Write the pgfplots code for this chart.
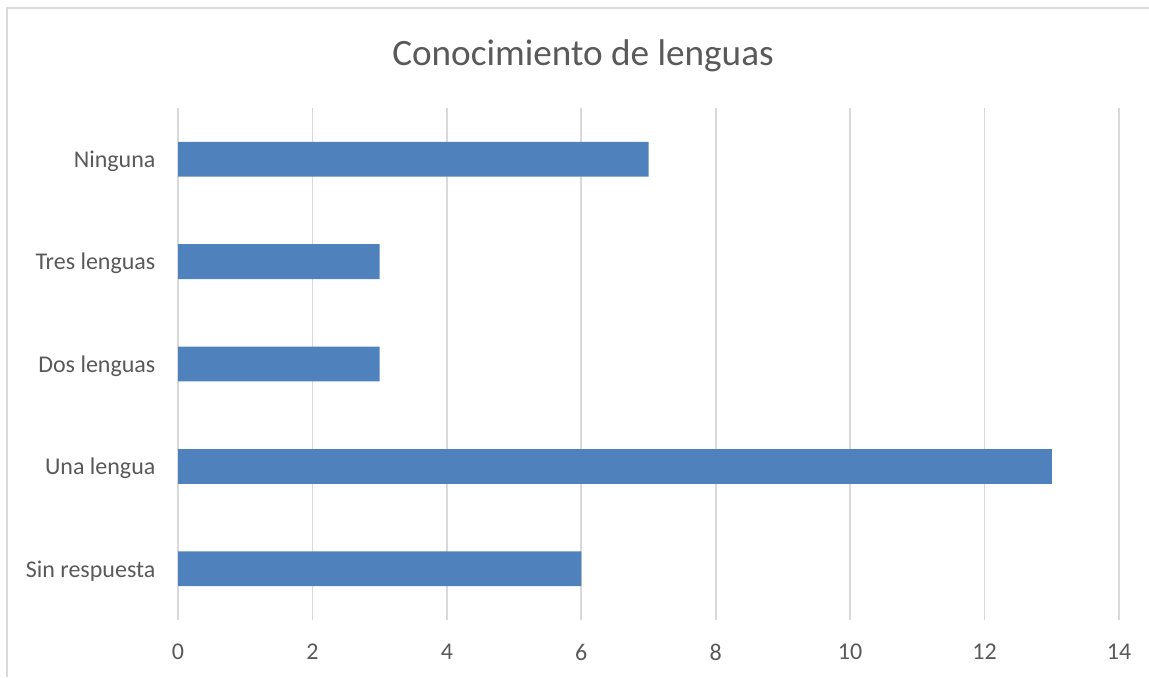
\documentclass[border=0pt]{standalone}
\usepackage{pgfplots}
\pgfplotsset{compat=1.18}
\usepackage{fontspec}
\setmainfont{Carlito}
\definecolor{barblue}{HTML}{4F81BD}
\definecolor{gridgray}{HTML}{D9D9D9}
\definecolor{textgray}{HTML}{595959}

\begin{document}
\begin{tikzpicture}[x=0.5pt,y=0.5pt]
% frame: 1149 x 677 px, 1px = 0.5pt
\useasboundingbox (0,0) rectangle (1149,677);
\draw[gridgray, line width=1.2pt] (7,0) -- (7,669) -- (1149,669);
\node[textgray, font=\fontsize{18.6}{20}\selectfont] at (583,621) {Conocimiento de lenguas};

\begin{axis}[
    at={(89pt,28.5pt)}, anchor=south west,
    scale only axis,
    width=470.5pt, height=256pt,
    xbar, bar width=0.34,
    xmin=0, xmax=14, xtick={0,2,...,14},
    ymin=-0.5, ymax=4.5, ytick={0,1,2,3,4},
    yticklabels={Sin respuesta, Una lengua, Dos lenguas, Tres lenguas, Ninguna},
    xmajorgrids, major grid style={gridgray, line width=0.8pt},
    axis line style={draw=none},
    major tick style={draw=none},
    ticklabel style={textgray, font=\fontsize{12}{14}\selectfont},
    xticklabel style={yshift=-8.5pt},
    yticklabel style={xshift=-3.5pt, yshift=-1pt},
    /pgf/number format/assume math mode=true,
]
\addplot[fill=barblue, draw=none] coordinates {
    (6,0) (13,1) (3,2) (3,3) (7,4)
};
\end{axis}
\end{tikzpicture}
\end{document}
